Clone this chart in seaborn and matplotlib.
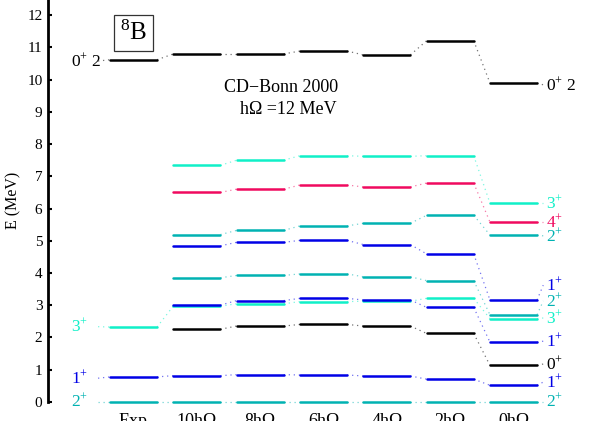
import numpy as np
import pandas as pd
import matplotlib
matplotlib.use("Agg")
import matplotlib.pyplot as plt
import seaborn as sns

# ---------------- data ----------------
columns = ["Exp", "10hΩ", "8hΩ", "6hΩ", "4hΩ", "2hΩ", "0hΩ"]
nan = np.nan
# energies (MeV) per column, one list per state (Exp first)
e_2p_a = [0.00, 0.00, 0.00, 0.00, 0.00, 0.00, 0.00]
e_1p_a = [0.77, 0.81, 0.84, 0.83, 0.80, 0.70, 0.51]
e_0p_a = [nan, 2.25, 2.35, 2.40, 2.35, 2.12, 1.13]
e_1p_b = [nan, 3.00, 3.14, 3.21, 3.16, 2.93, 1.85]
e_3p_a = [2.32, 2.97, 3.04, 3.11, 3.12, 3.21, 2.58]
e_2p_b = [nan, 3.85, 3.92, 3.97, 3.88, 3.76, 2.70]
e_1p_c = [nan, 4.84, 4.95, 5.01, 4.88, 4.59, 3.16]
e_2p_c = [nan, 5.19, 5.32, 5.46, 5.54, 5.79, 5.18]
e_4p_a = [nan, 6.50, 6.60, 6.73, 6.67, 6.79, 5.58]
e_3p_b = [nan, 7.34, 7.50, 7.64, 7.62, 7.64, 6.17]
e_0p_t2 = [10.62, 10.80, 10.80, 10.89, 10.77, 11.21, 9.90]

state_kinds = ["2+", "1+", "0+", "1+", "3+", "2+", "1+", "2+", "4+", "3+", "0+T2"]
state_vals = [e_2p_a, e_1p_a, e_0p_a, e_1p_b, e_3p_a, e_2p_b, e_1p_c,
              e_2p_c, e_4p_a, e_3p_b, e_0p_t2]
state_labels = ["2$^{+}$", "1$^{+}$", "0$^{+}$", "1$^{+}$", "3$^{+}$", "2$^{+}$",
                "1$^{+}$", "2$^{+}$", "4$^{+}$", "3$^{+}$", "0$^{+}$ 2"]

# ---------------- style ----------------
palette = {"2+": "#00b2b2", "1+": "#0000e6", "0+": "#000000",
           "3+": "#10f0c8", "4+": "#f00a5f", "0+T2": "#000000"}
hue_order = ["3+", "2+", "4+", "0+", "0+T2", "1+"]

# label layout (vertical positions chosen to avoid overlap)
right_label_y = [0.00, 0.61, 1.17, 1.88, 2.60, 3.13, 3.62, 5.15, 5.58, 6.17, 9.84]
left_label_y = {0: 0.00, 1: 0.73, 4: 2.33, 10: 10.58}

sns.set_theme(style="white")
plt.rcParams["font.family"] = ["Liberation Serif", "DejaVu Serif"]
plt.rcParams["mathtext.fontset"] = "custom"
plt.rcParams["mathtext.rm"] = "Liberation Serif"
plt.rcParams["mathtext.it"] = "Liberation Serif:italic"
plt.rcParams["mathtext.bf"] = "Liberation Serif:bold"
plt.rcParams["text.color"] = "black"
plt.rcParams["axes.labelcolor"] = "black"
plt.rcParams["ytick.color"] = "black"
plt.rcParams["xtick.color"] = "black"

fig = plt.figure(figsize=(5.9, 4.21), dpi=100)
ax = fig.add_axes([0, 0, 1, 1])
ax.set_xlim(-2.108, 7.208)
ax.set_ylim(-0.599, 12.475)

hw = 0.372  # half width of a level line

rows = []
for sid, (kind, vals) in enumerate(zip(state_kinds, state_vals)):
    for ci, v in enumerate(vals):
        if np.isnan(v):
            continue
        for dx in (-hw, hw):
            rows.append(dict(seg=f"{sid}-{ci}", x=ci + dx, E=v, kind=kind))
df = pd.DataFrame(rows)

# dotted connectors between columns
for sid, (kind, vals) in enumerate(zip(state_kinds, state_vals)):
    col = palette[kind]
    for ci in range(len(vals) - 1):
        a, b = vals[ci], vals[ci + 1]
        if np.isnan(a) or np.isnan(b):
            continue
        ax.plot([ci + hw, ci + 1 - hw], [a, b], color=col, lw=0.9,
                ls=(0, (1, 3)), alpha=0.55, zorder=1)

sns.lineplot(data=df, x="x", y="E", hue="kind", units="seg", estimator=None,
             palette=palette, hue_order=hue_order, linewidth=1.8, legend=False,
             sort=False, ax=ax, zorder=3)

# right labels (0hΩ)
last = len(columns) - 1
for sid, (kind, vals) in enumerate(zip(state_kinds, state_vals)):
    col = palette[kind]
    ly = right_label_y[sid]
    ax.plot([last + hw, last + 0.47], [vals[last], ly], color=col, lw=0.9,
            ls=(0, (1, 3)), alpha=0.55, zorder=1)
    ax.text(last + 0.51, ly, state_labels[sid], color=col, fontsize=12.5,
            ha="left", va="center")

# left labels (Exp)
for sid, ly in left_label_y.items():
    kind = state_kinds[sid]
    col = palette[kind]
    ax.plot([-0.56, -hw], [ly, state_vals[sid][0]], color=col, lw=0.9,
            ls=(0, (1, 3)), alpha=0.55, zorder=1)
    ax.text(-0.98, ly, state_labels[sid], color=col, fontsize=12.5,
            ha="left", va="center")

# column labels
for ci, name in enumerate(columns):
    ax.text(ci, -0.36, name, ha="center", va="top", fontsize=13)

# annotations
ax.text(0.0, 11.45, "$^{8}$B", ha="center", va="center", fontsize=18,
        bbox=dict(boxstyle="square,pad=0.22", fc="white", ec="#333333", lw=0.9))
ax.text(2.33, 9.76, "CD−Bonn 2000", ha="center", va="center", fontsize=13)
ax.text(2.44, 9.06, "hΩ =12 MeV", ha="center", va="center", fontsize=13)
ax.text(-1.90, 6.26, "E (MeV)", rotation=90, ha="center", va="center", fontsize=11.5)

# axis styling
for s in ["top", "right", "bottom"]:
    ax.spines[s].set_visible(False)
ax.spines["left"].set_position(("data", -1.35))
ax.spines["left"].set_bounds(0, 12.475)
ax.spines["left"].set_linewidth(2.0)
ax.spines["left"].set_color("black")
ax.set_yticks(range(0, 13))
ax.set_yticklabels([str(i) for i in range(0, 13)])
ax.set_xticks([])
ax.tick_params(axis="y", direction="in", length=3, width=1.5, labelsize=11,
               pad=4, left=True, colors="black")
ax.set_xlabel("")
ax.set_ylabel("")
ax.set_facecolor("white")
ax.grid(False)

fig.savefig("out.png", dpi=100)
